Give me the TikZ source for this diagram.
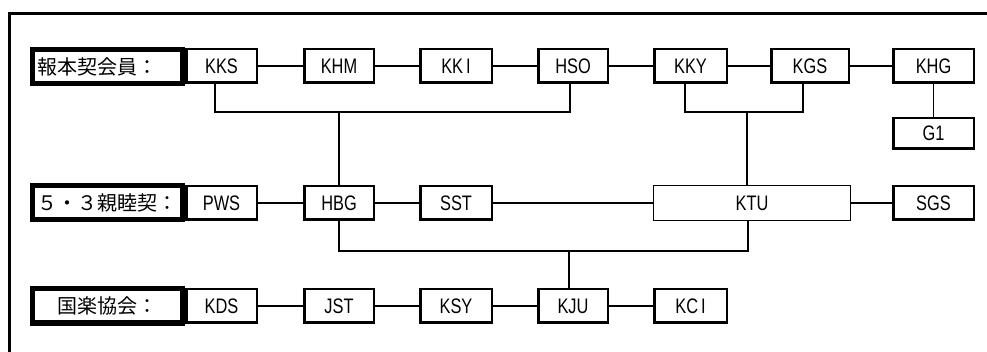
\documentclass[tikz,border=0pt]{standalone}
\usepackage{fontspec}
\newfontfamily\lat{Liberation Sans}[FakeStretch=0.78]
\newfontfamily\cjk{Noto Sans CJK JP}
\begin{document}
\begin{tikzpicture}[x=1pt,y=-1pt,
  box/.style={draw, line width=2.5pt, minimum height=33.5pt, inner sep=0pt, font=\lat\fontsize{21}{21}\selectfont},
  thinbox/.style={draw, line width=1.3pt, minimum height=35pt, inner sep=0pt, font=\lat\fontsize{21}{21}\selectfont},
  lbl/.style={draw, line width=5pt, minimum height=34pt, inner xsep=5pt, inner ysep=0pt, text width=140pt, align=left, font=\cjk\fontsize{20}{20}\selectfont},
  conn/.style={line width=1.6pt}]
\useasboundingbox (0,0) rectangle (987,352);
\clip (0,0) rectangle (987,352);
\fill[white] (0,0) rectangle (987,352);
% outer frame
\draw[line width=2.6pt] (9.5,13.5) rectangle (1000,400);

% row 1
\node[box, minimum width=70.5pt] (KKS) at (221.5,66) {KKS};
\node[box, minimum width=69.5pt] (KHM) at (339,66) {KHM};
\node[box, minimum width=71.5pt] (KKI) at (456,66) {KK\kern3pt I};
\node[box, minimum width=69.5pt] (HSO) at (573,66) {HSO};
\node[box, minimum width=72.5pt] (KKY) at (690.5,66) {KKY};
\node[box, minimum width=77.5pt] (KGS) at (810,66) {KGS};
\node[box, minimum width=80.5pt] (KHG) at (933.5,66) {KHG};
\node[box, minimum width=80.5pt, minimum height=30.5pt] (G1) at (933.5,133.5) {G1};
\node[lbl] (L1) at (107.5,66.5) {報本契会員：};

% row 2
\node[box, minimum width=70.5pt] (PWS) at (221.5,203) {PWS};
\node[box, minimum width=69.5pt] (HBG) at (339,203) {HBG};
\node[box, minimum width=71.5pt] (SST) at (456,203) {SST};
\node[thinbox, minimum width=196.7pt] (KTU) at (752,203) {KTU};
\node[box, minimum width=80.5pt] (SGS) at (933.5,203) {SGS};
\node[lbl] (L2) at (107.5,203) {５・３親睦契：};

% row 3
\node[box, minimum width=70.5pt] (KDS) at (221.5,306) {KDS};
\node[box, minimum width=69.5pt] (JST) at (339,306) {JST};
\node[box, minimum width=71.5pt] (KSY) at (456,306) {KSY};
\node[box, minimum width=69.5pt] (KJU) at (573,306) {KJU};
\node[box, minimum width=72.5pt] (KCI) at (690.5,306) {KC\kern3pt I};
\node[lbl] (L3) at (107.5,306) {　国楽協会：};

% horizontal connectors
\draw[conn] (KKS) -- (KHM);
\draw[conn] (KHM) -- (KKI);
\draw[conn] (KKI) -- (HSO);
\draw[conn] (HSO) -- (KKY);
\draw[conn] (KKY) -- (KGS);
\draw[conn] (KGS) -- (KHG);
\draw[conn] (KHG) -- (G1);
\draw[conn] (PWS) -- (HBG);
\draw[conn] (HBG) -- (SST);
\draw[conn] (SST) -- (KTU);
\draw[conn] (KTU) -- (SGS);
\draw[conn] (KDS) -- (JST);
\draw[conn] (JST) -- (KSY);
\draw[conn] (KSY) -- (KJU);
\draw[conn] (KJU) -- (KCI);

% brackets
\coordinate (c1) at (339,112);
\coordinate (c2) at (747,112);
\coordinate (c3) at (569,251);
\draw[conn] ([xshift=-6.5pt]KKS.south) |- (c1) -| ([xshift=-3pt]HSO.south);
\draw[conn] (c1) -- (HBG.north -| c1);
\draw[conn] ([xshift=-5.5pt]KKY.south) |- (c2) -| ([xshift=-7pt]KGS.south);
\draw[conn] (c2) -- (KTU.north -| c2);
\draw[conn] (HBG.south) |- (c3) -| ([xshift=-4pt]KTU.south);
\draw[conn] (c3) -- (KJU.north -| c3);
\end{tikzpicture}
\end{document}
